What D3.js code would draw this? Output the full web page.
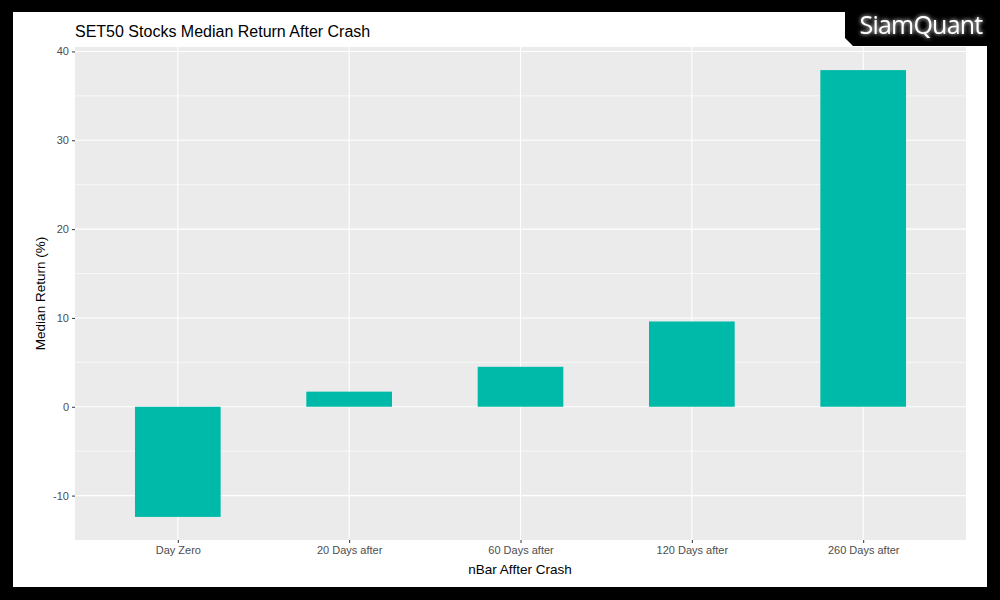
<!DOCTYPE html>
<html><head><meta charset="utf-8">
<script src="https://cdn.jsdelivr.net/npm/d3@7"></script>
<style>body{margin:0;background:#000;}svg{display:block;}</style>
</head><body>
<script>
const categories = ["Day Zero","20 Days after","60 Days after","120 Days after","260 Days after"];
const medianReturn = [-12.4, 1.7, 4.5, 9.6, 37.9];
const yTicks = [-10, 0, 10, 20, 30, 40];
const yMinor = [-5, 5, 15, 25, 35];

const W = 1000, H = 600;
const svg = d3.select("body").append("svg").attr("width", W).attr("height", H);
svg.append("rect").attr("width", W).attr("height", H).attr("fill", "#000");
svg.append("rect").attr("x", 13).attr("y", 12).attr("width", 974).attr("height", 575).attr("fill", "#fff");

const pl = 75, pr = 966, pt = 47, pb = 540;
const yMin = -15.0, yMax = 40.5;
const y = d3.scaleLinear().domain([yMin, yMax]).range([pb, pt]);
// ggplot discrete expansion 0.6 each side
const step = (pr - pl) / (categories.length - 1 + 1.2);
const xc = d3.scalePoint().domain(categories).range([pl + 0.6 * step, pr - 0.6 * step]);

svg.append("rect").attr("x", pl).attr("y", pt).attr("width", pr - pl).attr("height", pb - pt).attr("fill", "#ebebeb");

const g = svg.append("g");
g.selectAll(".minor").data(yMinor).join("line")
  .attr("x1", pl).attr("x2", pr).attr("y1", d => y(d)).attr("y2", d => y(d))
  .attr("stroke", "#fff").attr("stroke-width", 0.6);
g.selectAll(".major").data(yTicks).join("line")
  .attr("x1", pl).attr("x2", pr).attr("y1", d => y(d)).attr("y2", d => y(d))
  .attr("stroke", "#fff").attr("stroke-width", 1.1);
g.selectAll(".vmajor").data(categories).join("line")
  .attr("x1", d => xc(d)).attr("x2", d => xc(d)).attr("y1", pt).attr("y2", pb)
  .attr("stroke", "#fff").attr("stroke-width", 1.1);

const bw = step * 0.5;
g.selectAll(".bar").data(categories).join("rect")
  .attr("x", d => xc(d) - bw / 2)
  .attr("width", bw)
  .attr("y", (d, i) => y(Math.max(0, medianReturn[i])))
  .attr("height", (d, i) => Math.abs(y(medianReturn[i]) - y(0)))
  .attr("fill", "#00BAA9");

// Axes
const yAxis = d3.axisLeft(y).tickValues(yTicks).tickSize(3).tickPadding(3).tickFormat(d => String(d));
const ya = svg.append("g").attr("transform", `translate(${pl},0)`).call(yAxis);
ya.select(".domain").remove();
ya.selectAll("line").attr("stroke", "#333").attr("stroke-width", 1);
ya.selectAll("text").attr("fill", "#4d4d4d").style("font-family", "Liberation Sans, Arial, sans-serif").style("font-size", "11px");

const xAxis = d3.axisBottom(xc).tickSize(3).tickPadding(3);
const xa = svg.append("g").attr("transform", `translate(0,${pb})`).call(xAxis);
xa.select(".domain").remove();
xa.selectAll("line").attr("stroke", "#333").attr("stroke-width", 1);
xa.selectAll("text").attr("fill", "#4d4d4d").style("font-family", "Liberation Sans, Arial, sans-serif").style("font-size", "11px");

svg.append("text").attr("x", 520).attr("y", 574).attr("text-anchor", "middle")
  .style("font-family", "Liberation Sans, Arial, sans-serif").style("font-size", "13.5px").attr("fill", "#000")
  .text("nBar Affter Crash");
svg.append("text").attr("transform", `translate(45,${(pt + pb) / 2}) rotate(-90)`).attr("text-anchor", "middle")
  .style("font-family", "Liberation Sans, Arial, sans-serif").style("font-size", "13.5px").attr("fill", "#000")
  .text("Median Return (%)");
svg.append("text").attr("x", 75).attr("y", 37)
  .style("font-family", "Liberation Sans, Arial, sans-serif").style("font-size", "16px").attr("fill", "#000")
  .text("SET50 Stocks Median Return After Crash");

// Logo
svg.append("path").attr("d", "M845,0 L1000,0 L1000,46 L853,46 L845,38 Z").attr("fill", "#000");
const defs = svg.append("defs");
const f = defs.append("filter").attr("id", "glow").attr("x", "-20%").attr("y", "-50%").attr("width", "140%").attr("height", "200%");
f.append("feGaussianBlur").attr("stdDeviation", 2).attr("result", "b");
const m = f.append("feMerge");
m.append("feMergeNode").attr("in", "b");
m.append("feMergeNode").attr("in", "SourceGraphic");
svg.append("text").attr("x", 921).attr("y", 34).attr("text-anchor", "middle")
  .style("font-family", "Open Sans, DejaVu Sans, sans-serif").style("font-size", "25px").style("letter-spacing", "-0.8px")
  .attr("fill", "#fff").attr("filter", "url(#glow)")
  .text("SiamQuant");
</script>
</body></html>
